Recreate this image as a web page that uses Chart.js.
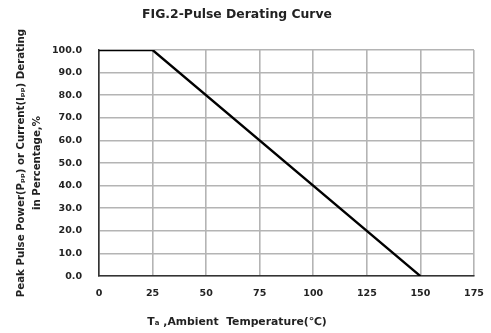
<!DOCTYPE html>
<html><head><meta charset="utf-8">
<script src="https://cdn.jsdelivr.net/npm/chart.js@4"></script>
<style>html,body{margin:0;padding:0;background:#fff}#wrap{width:491px;height:333px}</style>
</head><body><div id="wrap"><canvas id="c" width="491" height="333"></canvas></div>
<script>
const temperatures = [0, 25, 150];
const deratingPercent = [100, 100, 0];
const xTicks = [0, 25, 50, 75, 100, 125, 150, 175];
const yTicks = [0, 10, 20, 30, 40, 50, 60, 70, 80, 90, 100];
const chartTitle = 'FIG.2-Pulse Derating Curve';
const yTitle = ['Peak Pulse Power(P\u209a\u209a) or Current(I\u209a\u209a) Derating', 'in Percentage,%'];
const xTitle = 'T\u2090 ,Ambient  Temperature(\u2103)';

const FONT = '"DejaVu Sans", Verdana, sans-serif';
new Chart(document.getElementById('c'), {
  type: 'scatter',
  data: {
    datasets: [{
      data: temperatures.map((t, i) => ({x: t, y: deratingPercent[i]})),
      showLine: true,
      borderColor: '#000',
      borderWidth: 2.4,
      pointRadius: 0,
      tension: 0
    }]
  },
  options: {
    responsive: false,
    animation: false,
    layout: {padding: {left: 0, right: 17, top: 0, bottom: 0}},
    plugins: {
      legend: {display: false},
      tooltip: {enabled: false},
      title: {
        display: true, text: chartTitle, color: '#222',
        font: {family: FONT, size: 12.4, weight: 'bold', lineHeight: 1.1},
        padding: {top: 7.5, bottom: 28.9}
      },
      subtitle: {
        display: true, position: 'bottom', text: xTitle, color: '#222',
        font: {family: FONT, size: 10.8, weight: 'bold', lineHeight: 1.1},
        padding: {top: 4, bottom: 5}
      }
    },
    scales: {
      x: {
        type: 'linear', min: 0, max: 175,
        afterBuildTicks: s => { s.ticks = xTicks.map(v => ({value: v})); },
        afterFit: s => { s.height = 36; },
        grid: {color: '#b4b4b4', lineWidth: 1.6, drawTicks: true, tickLength: 10, tickColor: 'rgba(0,0,0,0)'},
        border: {color: '#333', width: 1.6},
        ticks: {color: '#222', padding: 2, font: {family: FONT, size: 9.5, weight: 'bold'}}
      },
      y: {
        type: 'linear', min: 0, max: 100,
        afterBuildTicks: s => { s.ticks = yTicks.map(v => ({value: v})); },
        afterFit: s => { s.width = 99; },
        grid: {color: '#b4b4b4', lineWidth: 1.6, drawTicks: false},
        border: {color: '#333', width: 1.6},
        ticks: {color: '#222', padding: 17, font: {family: FONT, size: 9.5, weight: 'bold'},
          callback: v => Number(v).toFixed(1)},
        title: {display: true, text: yTitle, color: '#222', padding: {top: 13, bottom: 0},
          font: {family: FONT, size: 10.2, weight: 'bold', lineHeight: 16 / 10.2}}
      }
    }
  }
});
</script></body></html>
